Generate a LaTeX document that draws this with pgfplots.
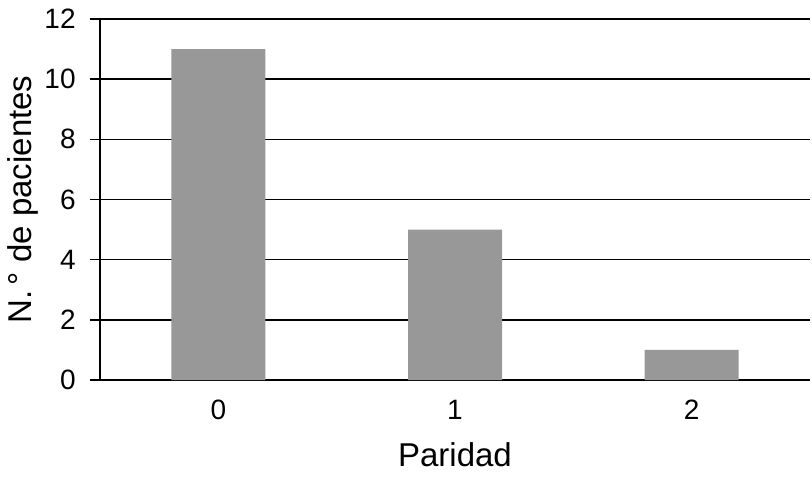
\documentclass[border=0pt]{standalone}
\usepackage{fontspec}
\setmainfont{Liberation Sans}
\usepackage{pgfplots}
\pgfplotsset{compat=1.18}
\definecolor{bargray}{RGB}{152,152,152}
\begin{document}
\begin{tikzpicture}
\begin{axis}[
  scale only axis,
  width=355pt, height=180.5pt,
  xmin=-0.5, xmax=2.5,
  ymin=0, ymax=12,
  ytick={0,2,...,12},
  xtick={0,1,2},
  xticklabels={0,1,2},
  axis x line*=bottom,
  axis y line*=left,
  axis line style={-, line width=0.8pt, black},
  ymajorgrids,
  grid style={line width=0.8pt, black},
  major tick length=5pt,
  ytick style={line width=0.8pt, black, xshift=-5pt},
  xtick style={draw=none},
  /pgf/number format/assume math mode=true,
  ticklabel style={font=\fontsize{14}{16}\selectfont},
  yticklabel style={anchor=east, inner sep=0pt, xshift=-12pt},
  xticklabel style={anchor=north, inner sep=0pt, yshift=-10pt},
  xlabel={Paridad},
  ylabel={N.\,° de pacientes},
  label style={font=\fontsize{16.5}{19}\selectfont},
  xlabel style={at={(axis description cs:0.5,-0.1717)}, anchor=north, inner sep=0pt},
  ylabel style={at={(axis description cs:-0.131,0.5)}, anchor=north, inner sep=0pt, rotate=0},
]
\addplot[ybar, bar width=47pt, fill=bargray, draw=none] coordinates {(0,11) (1,5) (2,1)};
\end{axis}
\pgfresetboundingbox
\path ([xshift=-50pt,yshift=-49.5pt]current axis.south west) rectangle ([xshift=1pt,yshift=9.5pt]current axis.north east);
\end{tikzpicture}
\end{document}
